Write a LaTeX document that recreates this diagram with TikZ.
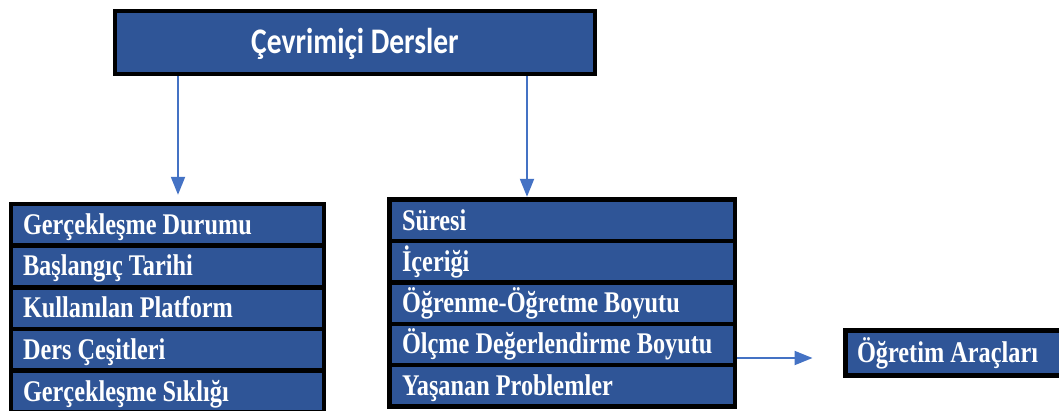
\documentclass[tikz,border=0pt]{standalone}
\usepackage{fontspec}
\usepackage{tikz}
\usetikzlibrary{arrows.meta, positioning, calc}
\newfontfamily\titlefont[FakeStretch=0.82]{Carlito}
\newfontfamily\rowfont[FakeStretch=0.81]{Liberation Serif}
\definecolor{rowblue}{HTML}{2F5597}
\definecolor{arrowblue}{HTML}{4472C4}

\tikzset{
    frame/.style={fill=black, inner sep=0pt},
    leftrow/.style={fill=rowblue, text=white, inner xsep=10pt, inner ysep=0pt,
        minimum height=37pt, text width=289pt, align=flush left,
        text height=19pt, text depth=0pt, font=\rowfont\bfseries\fontsize{30}{30}\selectfont},
    midrow/.style={leftrow, text width=321pt},
    arr/.style={draw=arrowblue, line width=2pt, -{Triangle[length=18pt, width=14pt]}}
}

\begin{document}
\begin{tikzpicture}[x=1pt, y=-1pt]
    \useasboundingbox (0,0) rectangle (1059,410);

    % Title
    \node[fill=rowblue, draw=black, line width=4pt, minimum width=480pt, minimum height=63pt,
          text=white, text height=21pt, text depth=0pt,
          font=\titlefont\bfseries\fontsize{36}{36}\selectfont] (title) at (355, 42.5) {Çevrimiçi Dersler};

    % Left stack
    \node[frame, minimum width=317pt, minimum height=212pt] (leftframe) at (167.5, 308) {};
    \node[leftrow] (left1) at (167.5, 224.5) {Gerçekleşme Durumu};
    \node[leftrow] (left2) at (167.5, 266.3) {Başlangıç Tarihi};
    \node[leftrow] (left3) at (167.5, 308.1) {Kullanılan Platform};
    \node[leftrow] (left4) at (167.5, 349.9) {Ders Çeşitleri};
    \node[leftrow] (left5) at (167.5, 391.7) {Gerçekleşme Sıklığı};

    % Middle stack
    \node[frame, minimum width=350pt, minimum height=212pt] (midframe) at (562, 303) {};
    \node[midrow] (mid1) at (562.5, 220.5) {Süresi};
    \node[midrow] (mid2) at (562.5, 261.75) {İçeriği};
    \node[midrow] (mid3) at (562.5, 303) {Öğrenme-Öğretme Boyutu};
    \node[midrow] (mid4) at (562.5, 344.25) {Ölçme Değerlendirme Boyutu};
    \node[midrow] (mid5) at (562.5, 385.5) {Yaşanan Problemler};

    % Tools
    \node[leftrow, draw=black, line width=5pt, minimum height=45pt, inner xsep=11.5pt,
          text width=193.5pt, text height=18pt] (tools) at (953.75, 353) {Öğretim Araçları};

    % Arrows
    \coordinate (la) at (178, 0);
    \coordinate (ma) at (527, 0);
    \coordinate (ha) at (0, 358);
    \draw[arr, shorten >=7pt] (title.south -| la) -- (leftframe.north -| la);
    \draw[arr] (title.south -| ma) -- (midframe.north -| ma);
    \draw[arr, shorten >=30.5pt] (midframe.east |- ha) -- (tools.west |- ha);
\end{tikzpicture}
\end{document}
